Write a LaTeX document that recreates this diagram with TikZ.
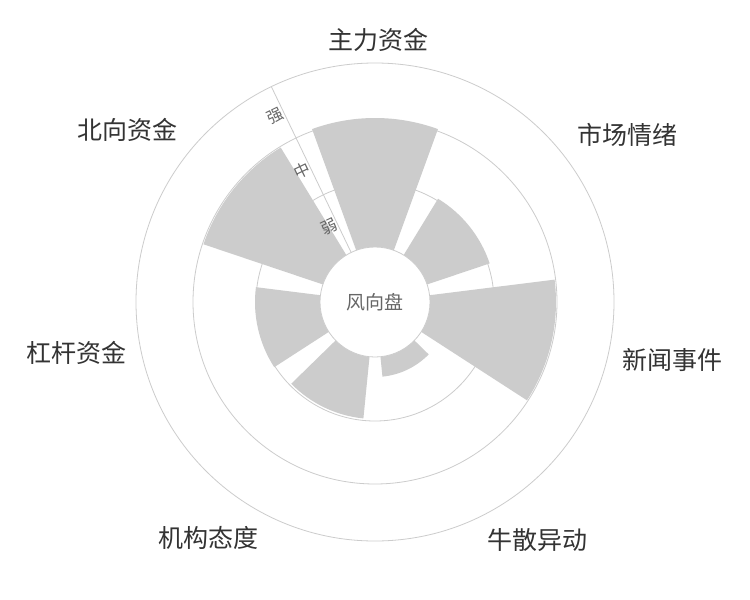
\documentclass[tikz,border=0pt]{standalone}
\usepackage{fontspec}
\newfontfamily\cjk{Noto Sans CJK SC}
\definecolor{gridc}{HTML}{CCCCCC}
\definecolor{barc}{HTML}{CCCCCC}
\definecolor{txt}{HTML}{333333}
\definecolor{axt}{HTML}{666666}
\tikzset{
 cat/.style={font=\cjk\fontsize{25}{28}\selectfont, text=txt, inner sep=0pt},
 axl/.style={font=\cjk\fontsize{16}{18}\selectfont, text=axt, inner sep=0pt, rotate=25.7},
 ring/.style={draw=gridc, line width=0.8pt},
}
\newcommand{\wedgebar}[2]{%
 \fill[barc] ({#1-20}:55pt) -- ({#1-20}:#2pt) arc[start angle={#1-20}, end angle={#1+20}, radius=#2pt] -- ({#1+20}:55pt) arc[start angle={#1+20}, end angle={#1-20}, radius=55pt] -- cycle;}
\begin{document}
\begin{tikzpicture}[x=1pt,y=1pt]
\useasboundingbox[fill=white] (0,0) rectangle (750,-600);
\begin{scope}[shift={(375,-302)}]
 \foreach \r in {119,182,239} \draw[ring] (0,0) circle[radius=\r];
 \draw[ring] (115.7:55) -- (115.7:239);
 \wedgebar{90}{184}
 \wedgebar{38.6}{121}
 \wedgebar{-12.9}{181}
 \wedgebar{-64.3}{75}
 \wedgebar{-115.7}{117}
 \wedgebar{-167.1}{120}
 \wedgebar{141.4}{181}
 \draw[ring, fill=white] (0,0) circle[radius=55];
 \node[font=\cjk\fontsize{19}{22}\selectfont, text=axt] (c) at (0,0) {风向盘};
 \node[axl] (s) at (115.7:211) [xshift=-9] {强};
 \node[axl] (m) at (115.7:150) [xshift=-9] {中};
 \node[axl] (w) at (115.7:88) [xshift=-9] {弱};
\end{scope}
\node[cat] (l1) at (378,-40) {主力资金};
\node[cat] (l2) at (627,-135) {市场情绪};
\node[cat] (l3) at (672,-360) {新闻事件};
\node[cat] (l4) at (537,-540) {牛散异动};
\node[cat] (l5) at (208,-538) {机构态度};
\node[cat] (l6) at (77,-353) {杠杆资金};
\node[cat] (l7) at (127,-130) {北向资金};
\end{tikzpicture}
\end{document}
